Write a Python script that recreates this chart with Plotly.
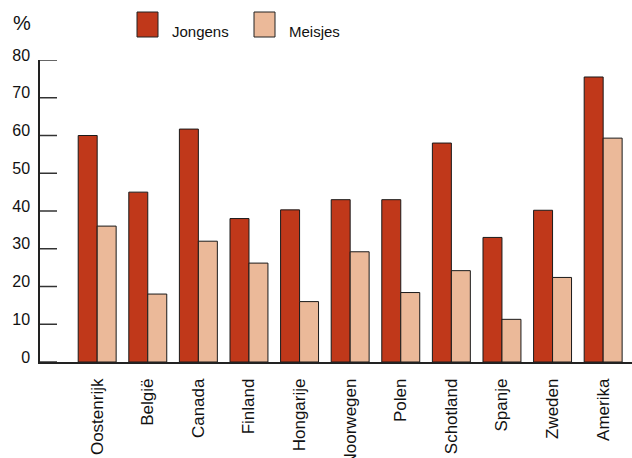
import plotly.graph_objects as go

# Landen en percentages per groep
landen = ["Oostenrijk", "België", "Canada", "Finland", "Hongarije", "Noorwegen",
          "Polen", "Schotland", "Spanje", "Zweden", "Amerika"]
jongens = [60, 45, 61.7, 38, 40.3, 43, 43, 58, 33, 40.2, 75.5]
meisjes = [36, 18, 32, 26.2, 16, 29.2, 18.4, 24.2, 11.3, 22.4, 59.3]
y_ticks = [0, 10, 20, 30, 40, 50, 60, 70, 80]

kleur_jongens = "#C0381A"
kleur_meisjes = "#EBB999"
lijn = dict(color="#1a1a1a", width=1)

W, H = 632, 458
ML, MR, MT, MB = 40, 0, 60, 96

fig = go.Figure()
fig.add_trace(go.Bar(x=list(range(len(landen))), y=jongens, name="Jongens",
                     marker=dict(color=kleur_jongens, line=lijn)))
fig.add_trace(go.Bar(x=list(range(len(landen))), y=meisjes, name="Meisjes",
                     marker=dict(color=kleur_meisjes, line=lijn)))

font = "Liberation Sans, Arial, Helvetica, sans-serif"

fig.update_layout(
    width=W, height=H,
    margin=dict(l=ML, r=MR, t=MT, b=MB, pad=0, autoexpand=False),
    paper_bgcolor="white", plot_bgcolor="white",
    barmode="group", bargap=0.25, bargroupgap=0,
    showlegend=False,
    font=dict(family=font, color="#111"),
)
fig.update_xaxes(
    range=[-1.13, 10.57], automargin=False,
    tickvals=list(range(len(landen))), ticktext=landen,
    tickangle=-90, tickfont=dict(size=17),
    ticks="", showgrid=False, zeroline=False,
    showline=True, linecolor="#222", linewidth=1.5,
    ticklabelstandoff=8,
)
fig.update_yaxes(
    range=[0, 80], tickvals=y_ticks, automargin=False,
    tickfont=dict(size=16),
    ticks="", showgrid=False, zeroline=False,
    showline=True, linecolor="#222", linewidth=1.5,
    ticklabelstandoff=5, ticklabelshift=-5,
)

# Korte streepjes naast de y-as, aan de binnenkant
tick_len = 17 / (W - ML - MR)
for v in y_ticks:
    fig.add_shape(type="line", xref="paper", yref="y",
                  x0=0, x1=tick_len, y0=v, y1=v,
                  line=dict(color="#333", width=1.5))

def px_x(p):
    return (p - ML) / (W - ML - MR)

def px_y(p):
    return (H - MB - p) / (H - MT - MB)

# Legenda bovenaan
for x0, kleur, tekst in [(137, kleur_jongens, "Jongens"), (254, kleur_meisjes, "Meisjes")]:
    fig.add_shape(type="rect", xref="paper", yref="paper",
                  x0=px_x(x0), x1=px_x(x0 + 21), y0=px_y(37), y1=px_y(12),
                  fillcolor=kleur, line=dict(color="#222", width=1))
    fig.add_annotation(xref="paper", yref="paper", x=px_x(x0 + 33), y=px_y(31),
                       text=tekst, showarrow=False, xanchor="left", yanchor="middle",
                       font=dict(size=15, family=font, color="#111"))

fig.add_annotation(xref="paper", yref="paper", x=px_x(11), y=px_y(23),
                   text="%", showarrow=False, xanchor="left", yanchor="middle",
                   font=dict(size=20, family=font, color="#111"))

fig.write_html("out.html")
